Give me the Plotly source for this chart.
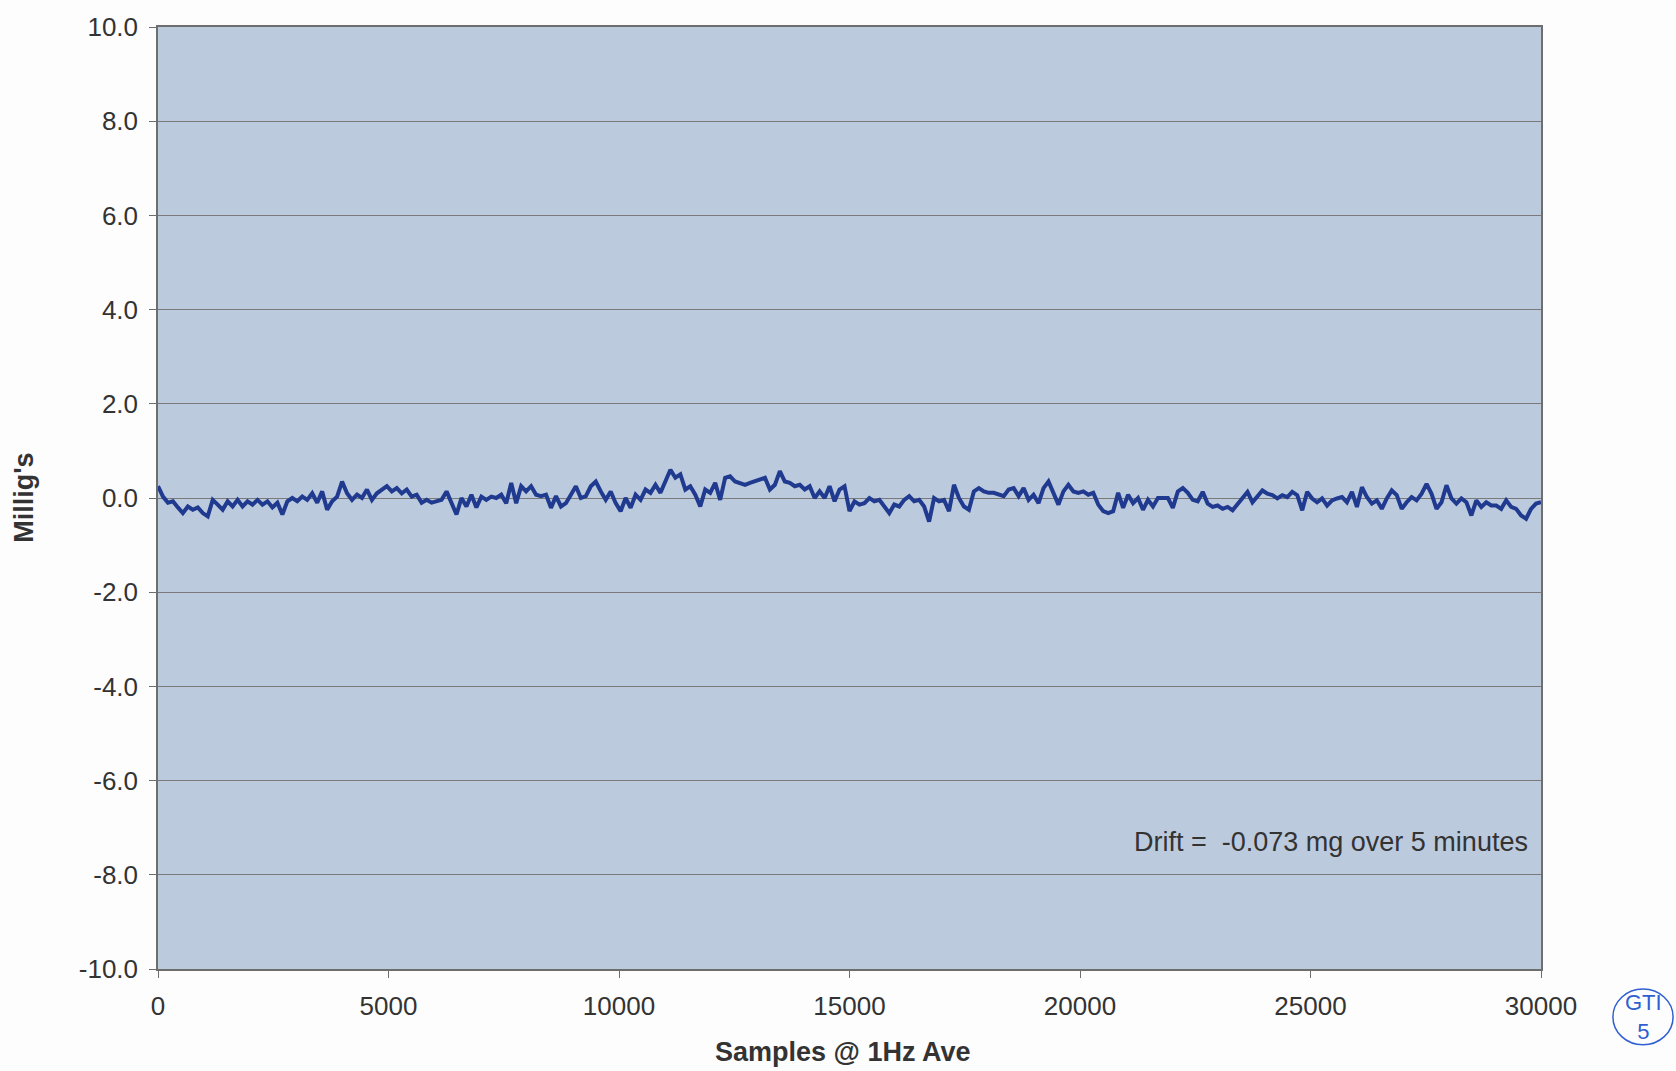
import numpy as np
import plotly.graph_objects as go

# ---- data ----
seg1 = [0.25, 0.03, -0.10, -0.07, -0.20, -0.32, -0.18, -0.25, -0.20, -0.32,
        -0.39, -0.04, -0.14, -0.25, -0.07, -0.18, -0.04, -0.18, -0.07, -0.14,
        -0.04, -0.14, -0.07, -0.20, -0.10, -0.35, -0.07, 0.00, -0.07, 0.03,
        -0.04, 0.10, -0.10, 0.14, -0.25, -0.07, 0.03, 0.35, 0.10, -0.04,
        0.07, 0.00, 0.18, -0.04, 0.10, 0.18, 0.25, 0.14, 0.21, 0.10,
        0.18, 0.03, 0.07, -0.10, -0.04, -0.10, -0.07, -0.04, 0.14, -0.10,
        -0.35, 0.00, -0.18, 0.07, -0.20, 0.03, -0.04, 0.03, 0.00, 0.07]
seg2 = [-0.11, 0.32, -0.11, 0.25, 0.14, 0.25, 0.07, 0.04, 0.07, -0.21,
        0.04, -0.18, -0.11, 0.07, 0.25, 0.00, 0.04, 0.25, 0.35, 0.14,
        -0.04, 0.14, -0.11, -0.28, 0.00, -0.21, 0.07, -0.04, 0.18, 0.11,
        0.28, 0.11, 0.35, 0.60, 0.43, 0.50, 0.18, 0.25, 0.07, -0.18,
        0.18, 0.11, 0.32, -0.04, 0.43, 0.46, 0.35, 0.32, 0.28, 0.32,
        0.35, 0.39, 0.43, 0.18, 0.28, 0.57, 0.35, 0.32, 0.25, 0.28,
        0.18, 0.25, 0.00, 0.14, 0.00, 0.25, -0.07, 0.18, 0.25, -0.28]
seg3 = [-0.07, -0.14, -0.11, 0.00, -0.07, -0.04, -0.18, -0.32, -0.14, -0.18,
        -0.04, 0.04, -0.07, -0.04, -0.18, -0.50, 0.00, -0.07, -0.04, -0.28,
        0.28, 0.00, -0.18, -0.25, 0.14, 0.21, 0.14, 0.11, 0.11, 0.07,
        0.04, 0.18, 0.21, 0.04, 0.21, -0.04, 0.07, -0.11, 0.21, 0.35,
        0.11, -0.14, 0.14, 0.28, 0.14, 0.11, 0.14, 0.07, 0.11, -0.14,
        -0.28, -0.32, -0.28, 0.11, -0.21, 0.07, -0.11, 0.00, -0.25, -0.04,
        -0.18, 0.00, 0.00, 0.00, -0.21, 0.14, 0.21, 0.11, -0.04, -0.07]
seg4 = [0.13, -0.12, -0.19, -0.16, -0.23, -0.19, -0.26, -0.12, -0.01, 0.13,
        -0.09, 0.02, 0.16, 0.09, 0.06, -0.01, 0.06, 0.02, 0.13, 0.06,
        -0.26, 0.13, -0.01, -0.09, -0.01, -0.16, -0.05, -0.01, 0.02, -0.09,
        0.13, -0.19, 0.23, 0.02, -0.12, -0.05, -0.23, -0.01, 0.16, 0.06,
        -0.23, -0.09, 0.02, -0.05, 0.09, 0.30, 0.09, -0.23, -0.09, 0.27,
        -0.01, -0.12, -0.01, -0.09, -0.37, -0.05, -0.19, -0.09, -0.16, -0.16,
        -0.23, -0.05, -0.19, -0.23, -0.37, -0.44, -0.23, -0.12, -0.09]

milligs = seg1 + seg2 + seg3 + seg4
samples = np.linspace(0, 30000, len(milligs))

y_ticks = [-10, -8, -6, -4, -2, 0, 2, 4, 6, 8, 10]
x_ticks = [0, 5000, 10000, 15000, 20000, 25000, 30000]
drift_text = "Drift =  -0.073 mg over 5 minutes"

FONT = "Liberation Sans, Arial, sans-serif"
TXT = "#333333"

fig = go.Figure()
fig.add_trace(go.Scatter(
    x=samples, y=milligs, mode="lines",
    line=dict(color="#1f3a8f", width=4),
    showlegend=False, hoverinfo="skip"))

fig.add_annotation(x=25450, y=-7.3, xref="x", yref="y", text=drift_text,
                   showarrow=False, font=dict(family=FONT, size=27, color=TXT),
                   xanchor="center", yanchor="middle")

fig.add_annotation(x=-0.097, y=0.5, xref="paper", yref="paper",
                   text="<b>Millig's</b>", textangle=-90, showarrow=False,
                   font=dict(family=FONT, size=27, color=TXT),
                   xanchor="center", yanchor="middle")
fig.add_annotation(x=0.495, y=-0.088, xref="paper", yref="paper",
                   text="<b>Samples @ 1Hz Ave</b>", showarrow=False,
                   font=dict(family=FONT, size=27, color=TXT),
                   xanchor="center", yanchor="middle")

# "GTI 5" stamp
fig.add_shape(type="circle", xref="paper", yref="paper",
              x0=1.052, x1=1.0955, y0=-0.0805, y1=-0.0213,
              line=dict(color="#2f5fd0", width=1.5))
fig.add_annotation(x=1.0738, y=-0.051, xref="paper", yref="paper",
                   text="GTI<br>5", showarrow=False, align="center",
                   font=dict(family=FONT, size=22, color="#2f5fd0"),
                   xanchor="center", yanchor="middle")

fig.update_layout(
    width=1676, height=1071,
    margin=dict(l=158, r=135, t=17, b=102),
    paper_bgcolor="#fdfdfd",
    plot_bgcolor="#bccade",
    font=dict(family=FONT, size=26, color=TXT),
)
fig.update_xaxes(
    range=[0, 30000], tickvals=x_ticks, ticktext=[str(v) for v in x_ticks],
    showgrid=False, zeroline=False,
    showline=True, linecolor="#6e6e6e", linewidth=1.5, mirror=True,
    ticks="outside", ticklen=7, tickcolor="#6e6e6e",
    tickfont=dict(family=FONT, size=26, color=TXT),
    ticklabelstandoff=6,
)
fig.update_yaxes(
    range=[-10, 10], tickvals=y_ticks, ticktext=[f"{v:.1f}" for v in y_ticks],
    showgrid=True, gridcolor="#7a7a7a", gridwidth=1, zeroline=False,
    showline=True, linecolor="#6e6e6e", linewidth=1.5, mirror=True,
    ticks="outside", ticklen=7, tickcolor="#6e6e6e",
    tickfont=dict(family=FONT, size=26, color=TXT),
    ticklabelstandoff=6,
)

fig.write_html("out.html")
